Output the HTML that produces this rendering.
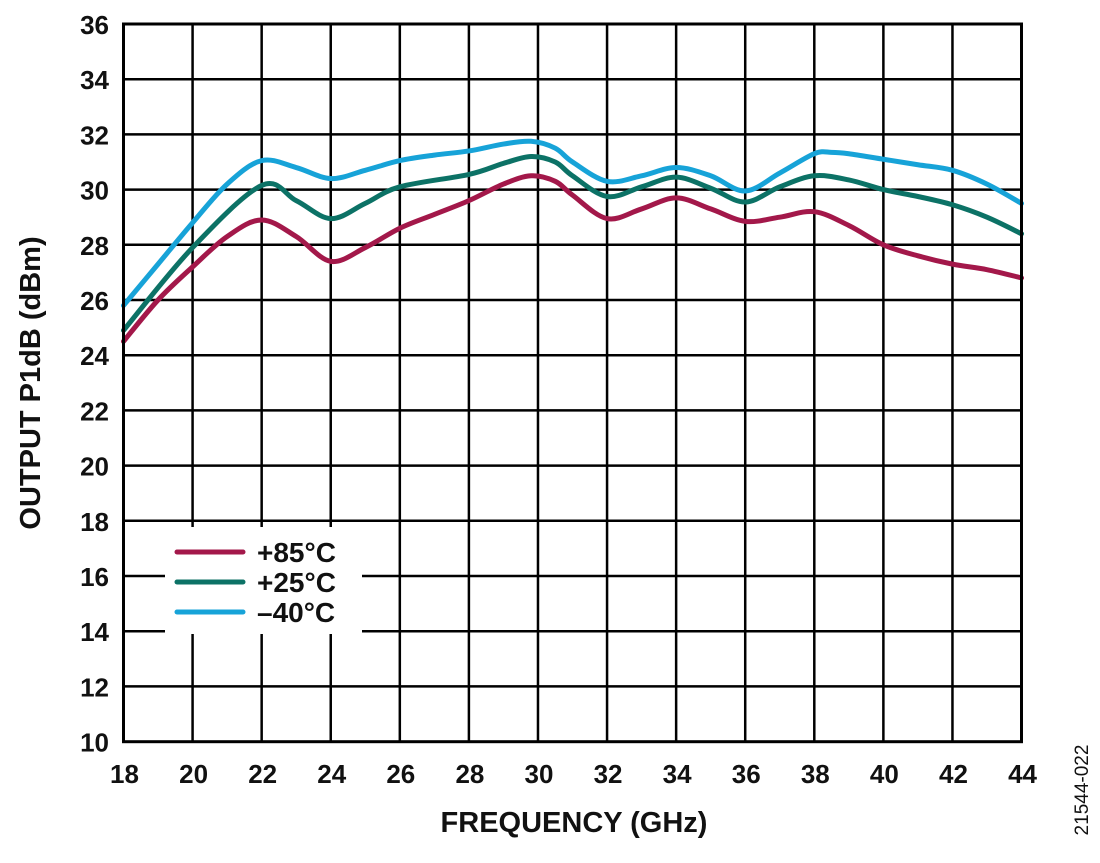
<!DOCTYPE html>
<html><head><style>
html,body{margin:0;padding:0;background:#fff;}
svg text{font-family:"Liberation Sans",Arial,sans-serif;font-weight:bold;fill:#111;}
</style></head><body>
<svg id="s" width="1100" height="858" xmlns="http://www.w3.org/2000/svg">
<g id="grid" stroke="#000" stroke-width="2.5"></g>
<rect x="165" y="527" width="197" height="107" fill="#fff"/>
<g id="curves" fill="none" stroke-width="5" stroke-linecap="round" stroke-linejoin="round"></g>
<rect x="123.5" y="24" width="898" height="717.7" fill="none" stroke="#000" stroke-width="3"/>
<g id="labels"></g>
<line x1="177" y1="552" x2="243" y2="552" stroke="#a3184a" stroke-width="5" stroke-linecap="round"/>
<line x1="177" y1="582" x2="243" y2="582" stroke="#0c7266" stroke-width="5" stroke-linecap="round"/>
<line x1="177" y1="612" x2="243" y2="612" stroke="#17a3d8" stroke-width="5" stroke-linecap="round"/>
<text x="257" y="562" font-size="28">+85°C</text>
<text x="257" y="592" font-size="28">+25°C</text>
<text x="257" y="622" font-size="28">–40°C</text>
<text x="574" y="832" font-size="29" text-anchor="middle">FREQUENCY (GHz)</text>
<text transform="translate(40,383) rotate(-90)" font-size="29" text-anchor="middle">OUTPUT P1dB (dBm)</text>
<text transform="translate(1088,790) rotate(-90)" font-size="19" text-anchor="middle" style="font-weight:normal">21544-022</text>
</svg>
<script>
var NS="http://www.w3.org/2000/svg";
function px(f){return 123.5+(f-18)*34.54;}
function py(v){return 24+(36-v)*27.6;}
var g=document.getElementById("grid"),L=document.getElementById("labels");
function el(p,t,a){var e=document.createElementNS(NS,t);for(var k in a)e.setAttribute(k,a[k]);p.appendChild(e);return e;}
for(var f=20;f<44;f+=2)el(g,"line",{x1:px(f),x2:px(f),y1:24,y2:741.7});
for(var v=12;v<36;v+=2)el(g,"line",{x1:123.5,x2:1021.5,y1:py(v),y2:py(v)});
for(var f=18;f<=44;f+=2){var t=el(L,"text",{x:px(f)+1,y:783,"font-size":26,"text-anchor":"middle"});t.textContent=f;}
for(var v=10;v<=36;v+=2){var t=el(L,"text",{x:109,y:py(v)+10,"font-size":26,"text-anchor":"end"});t.textContent=v;}
var data={
"#17a3d8":[[18,25.8],[19,27.3],[20,28.8],[21,30.2],[22,31.05],[23,30.8],[24,30.4],[25,30.7],[26,31.05],[27,31.25],[28,31.4],[29,31.65],[29.8,31.75],[30.5,31.5],[31,31.0],[32,30.3],[33,30.5],[34,30.8],[35,30.5],[36,29.95],[37,30.6],[38,31.3],[38.5,31.35],[39,31.3],[40,31.1],[41,30.9],[42,30.7],[43,30.2],[44,29.5]],
"#0c7266":[[18,24.9],[20,27.9],[22,30.15],[23,29.6],[24,28.95],[25,29.5],[26,30.1],[28,30.55],[29,30.95],[29.8,31.2],[30.5,31.0],[31,30.5],[32,29.75],[33,30.1],[34,30.45],[35,30.05],[36,29.55],[37,30.1],[38,30.5],[39,30.35],[40,30.0],[41,29.75],[42,29.45],[43,29.0],[44,28.4]],
"#a3184a":[[18,24.5],[19,26.0],[20,27.2],[21,28.3],[22,28.9],[23,28.3],[24,27.4],[25,27.9],[26,28.6],[27,29.1],[28,29.6],[29,30.2],[29.8,30.5],[30.5,30.3],[31,29.8],[32,28.95],[33,29.3],[34,29.7],[35,29.3],[36,28.85],[37,29.0],[38,29.2],[39,28.7],[40,28.0],[41,27.6],[42,27.3],[43,27.1],[44,26.8]]};
var C=document.getElementById("curves");
for(var c in data){var p=data[c].map(function(d){return[px(d[0]),py(d[1])];});
var d="M"+p[0][0]+","+p[0][1];
for(var i=0;i<p.length-1;i++){var p0=p[i-1]||p[i],p1=p[i],p2=p[i+1],p3=p[i+2]||p2;
d+=" C"+(p1[0]+(p2[0]-p0[0])/6)+","+(p1[1]+(p2[1]-p0[1])/6)+" "+(p2[0]-(p3[0]-p1[0])/6)+","+(p2[1]-(p3[1]-p1[1])/6)+" "+p2[0]+","+p2[1];}
el(C,"path",{d:d,stroke:c});}
</script>
</body></html>
